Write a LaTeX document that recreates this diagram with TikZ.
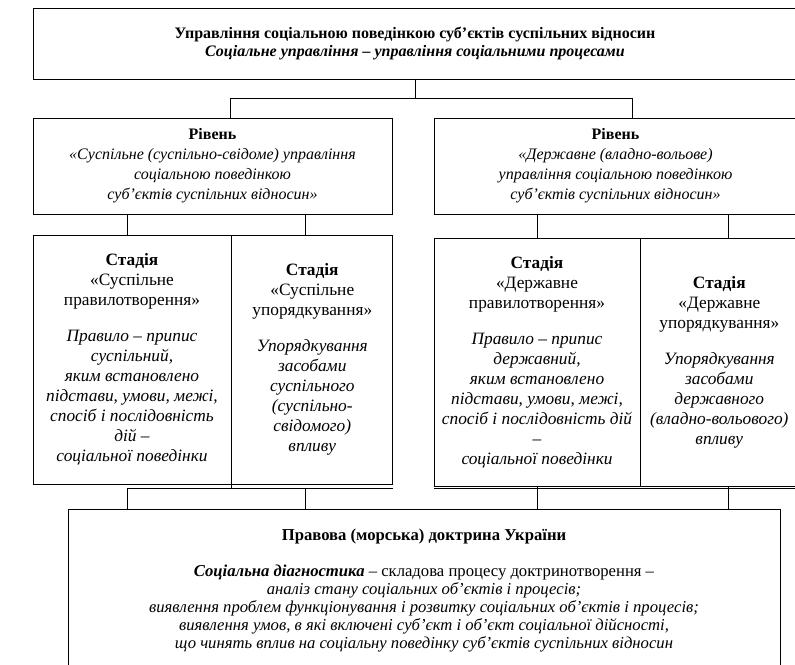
\documentclass[tikz,border=0pt]{standalone}
\usepackage{fontspec}
\setmainfont{Liberation Serif}
\usetikzlibrary{positioning}

\begin{document}
\begin{tikzpicture}[x=0.75pt,y=-0.75pt,line width=0.6pt,
    box/.style={draw,rectangle,align=center,inner sep=2pt},
    head box/.style={box,minimum width=573pt,minimum height=53.25pt,font=\fontsize{12}{13.5}\selectfont},
    level box/.style={box,minimum height=72pt,font=\fontsize{12}{15}\selectfont},
    stage box/.style={box,font=\fontsize{13}{15}\selectfont},
    doc box/.style={box,minimum width=534pt,minimum height=123pt,font=\fontsize{12.5}{13.5}\selectfont}]
  \useasboundingbox (0,0) rectangle (795,664);
  % columns of the connectors
  \coordinate (dropL) at (230,0);
  \coordinate (dropR) at (632,0);
  \coordinate (colA) at (127,0);
  \coordinate (colB) at (305,0);
  \coordinate (colC) at (537,0);
  \coordinate (colD) at (728,0);

  \node[head box] (top) at (415,43.5) {\textbf{Управління соціальною поведінкою суб’єктів суспільних відносин}\\
    \textbf{\textit{Соціальне управління – управління соціальними процесами}}};

  \node[level box,minimum width=269.25pt] (levL) at (212.5,166) {\textbf{Рівень}\\
    \textit{«Суспільне (суспільно-свідоме) управління}\\
    \textit{соціальною поведінкою}\\
    \textit{суб’єктів суспільних відносин»}};
  \node[level box,minimum width=272.25pt] (levR) at (615.5,166) {\textbf{Рівень}\\
    \textit{«Державне (владно-вольове)}\\
    \textit{управління соціальною поведінкою}\\
    \textit{суб’єктів суспільних відносин»}};

  \node[stage box,minimum width=148.5pt,minimum height=186.75pt] (stageA) at (132,359.5) {\textbf{Стадія}\\
    «Суспільне\\правилотворення»\\[12pt]
    \textit{Правило – припис}\\\textit{суспільний,}\\\textit{яким встановлено}\\
    \textit{підстави, умови, межі,}\\\textit{спосіб і послідовність}\\\textit{дій –}\\
    \textit{соціальної поведінки}};
  \node[stage box,minimum width=120.75pt,minimum height=186.75pt,right=0pt of stageA] (stageB) {\textbf{Стадія}\\
    «Суспільне\\упорядкування»\\[12pt]
    \textit{Упорядкування}\\\textit{засобами}\\\textit{суспільного}\\
    \textit{(суспільно-}\\\textit{свідомого)}\\\textit{впливу}};
  \node[stage box,minimum width=154.5pt,minimum height=186pt] (stageC) at (537,362) {\textbf{Стадія}\\
    «Державне\\правилотворення»\\[12pt]
    \textit{Правило – припис}\\\textit{державний,}\\\textit{яким встановлено}\\
    \textit{підстави, умови, межі,}\\\textit{спосіб і послідовність дій}\\\textit{–}\\
    \textit{соціальної поведінки}};
  \node[stage box,minimum width=117.75pt,minimum height=186pt,right=0pt of stageC] (stageD) {\textbf{Стадія}\\
    «Державне\\упорядкування»\\[12pt]
    \textit{Упорядкування}\\\textit{засобами}\\\textit{державного}\\
    \textit{(владно-вольового)}\\\textit{впливу}};

  \node[doc box] (doc) at (424,591) {\textbf{Правова (морська) доктрина України}\\[13.5pt]
    \textbf{\textit{Соціальна діагностика}} – складова процесу доктринотворення –\\
    \textit{аналіз стану соціальних об’єктів і процесів;}\\
    \textit{виявлення проблем функціонування і розвитку соціальних об’єктів і процесів;}\\
    \textit{виявлення умов, в які включені суб’єкт і об’єкт соціальної дійсності,}\\
    \textit{що чинять вплив на соціальну поведінку суб’єктів суспільних відносин}};

  % top to levels
  \draw (top.south) -- ++(0,19) -| (dropL |- levL.north);
  \draw (top.south) ++(0,19) -| (dropR |- levR.north);
  % levels to stages
  \draw (colA |- levL.south) -- (colA |- stageA.north);
  \draw (colB |- levL.south) -- (colB |- stageB.north);
  \draw (colC |- levR.south) -- (colC |- stageC.north);
  \draw (colD |- levR.south) -- (colD |- stageD.north);
  % stages to doctrine
  \coordinate (busL) at (127,488);
  \coordinate (busR) at (434,488);
  \draw (busL) -- (busL -| stageB.east);
  \draw (stageB.south west) -- (busL -| stageB.west);
  \draw (busR) -- (busR -| stageD.east);
  \draw (busL) -- (colA |- doc.north);
  \draw (busL -| colB) -- (colB |- doc.north);
  \draw (colC |- stageC.south) -- (colC |- doc.north);
  \draw (colD |- stageD.south) -- (colD |- doc.north);
\end{tikzpicture}
\end{document}
